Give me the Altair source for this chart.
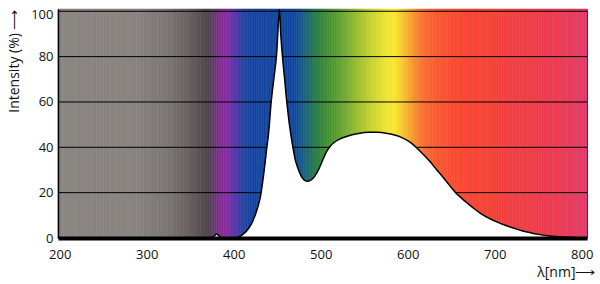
import altair as alt
import pandas as pd
import numpy as np

# Spectrum background colour stops (wavelength nm -> colour)
stop_lam = [198, 290, 300, 325, 345, 360, 368, 376, 385, 392, 402, 410, 420, 470,
            478, 487, 497, 505, 515, 528, 545, 560, 575, 585, 592, 600, 608, 620,
            637, 670, 700, 717, 745, 775, 806]
stop_col = ["#898480", "#87827f", "#827d7b", "#7a7474", "#6a6363", "#5a5252", "#4d4646",
            "#5e3e66", "#7f2d92", "#8a2ca2", "#5536a8", "#2c43a2", "#1645a0", "#1246a0",
            "#175a88", "#1e6e6a", "#2f8040", "#3c8c38", "#52982f", "#70a835", "#a3c230",
            "#cad530", "#eee232", "#f8e630", "#f8d030", "#f8b030", "#f89030", "#fa6a30",
            "#fb5530", "#f84532", "#f44238", "#f04040", "#ee3c48", "#ea3a55", "#e03a68"]

# LED emission spectrum (nm, relative intensity %)
spec_lam = [370, 375, 378, 380, 382, 384, 386, 400, 405, 410, 415, 420, 425, 430, 435,
            438, 440, 443, 446, 449, 450.6, 452.4, 454, 456, 458.5, 461, 464, 468, 471,
            474, 478, 482, 485, 489, 493, 497, 501, 504, 507, 511, 515, 520, 526, 535,
            545, 555, 565, 575, 585, 592, 603, 611, 618, 626, 633, 641, 648, 655, 662,
            669, 676, 684, 693, 703, 712, 722, 731, 741, 750, 760, 775, 790, 800, 806]
spec_int = [0, 0.3, 1.0, 1.8, 1.4, 0.4, 0, 0, 0.3, 1.5, 3.2, 6, 10.5, 17, 30,
            40, 46, 60, 70, 80, 90, 101, 90, 80, 70, 60, 50, 40, 34,
            30.5, 27, 25.3, 25, 25.6, 27.2, 29.8, 33.2, 36, 38.3, 40.5, 42, 43.3, 44.3, 45.4,
            46.2, 46.6, 46.6, 46.2, 45.4, 44.5, 42.2, 39.5, 36.8, 33.5, 30.2, 26.6, 23.2, 20, 17.5,
            15.2, 13, 10.8, 8.8, 7, 5.6, 4.3, 3.2, 2.3, 1.6, 1.0, 0.5, 0.2, 0.05, 0]

grid_vals = [20, 40, 60, 80, 100]
x_ticks = [200, 300, 400, 500, 600, 700, 800]
y_ticks = [0, 20, 40, 60, 80, 100]

edges = np.arange(198, 808, 2)
bg = pd.DataFrame({"lam": edges[:-1], "lam2": edges[1:]})
bg["mid"] = (bg["lam"] + bg["lam2"]) / 2

spec = pd.DataFrame({"lam": spec_lam, "inten": spec_int})
grid = pd.DataFrame({"g": grid_vals})

FONT = "Open Sans"
xscale = alt.Scale(domain=[198, 806], nice=False, zero=False)
yscale = alt.Scale(domain=[0, 101], nice=False, zero=False)
cscale = alt.Scale(domain=stop_lam, range=stop_col, interpolate="rgb")

xaxis = alt.Axis(values=x_ticks, title="λ[nm]⟶", ticks=False, grid=False,
                 domainColor="black", domainWidth=4, labelPadding=10,
                 labelFlush=False, labelOverlap=False, labelFont=FONT,
                 labelFontSize=13, labelColor="#111", titleFont=FONT,
                 titleFontSize=14, titleFontWeight="normal", titleColor="#111",
                 titleX=537, titleY=34, titleAlign="right", titleBaseline="middle",
                 zindex=2)
yaxis = alt.Axis(values=y_ticks, title="Intensity (%) ⟶", ticks=False, grid=False,
                 domainColor="black", domainWidth=1.5, labelPadding=5,
                 labelOffset={"condition": {"test": "datum.value == 100", "value": 3}, "value": 0},
                 labelFlush=False, labelOverlap=False, labelFont=FONT,
                 labelFontSize=13, labelColor="#111", titleFont=FONT,
                 titleFontSize=14, titleFontWeight="normal", titleColor="#111",
                 titleX=-44, titleY=0, titleAngle=270, titleAlign="right",
                 titleBaseline="middle", zindex=2)

background = alt.Chart(bg).mark_rect(strokeWidth=0.6).encode(
    x=alt.X("lam:Q", scale=xscale, axis=xaxis),
    x2="lam2:Q",
    y=alt.YDatum(0, scale=yscale, axis=yaxis),
    y2=alt.Y2Datum(101),
    fill=alt.Fill("mid:Q", scale=cscale, legend=None),
    stroke=alt.Stroke("mid:Q", scale=cscale, legend=None),
)

gridlines = alt.Chart(grid).mark_rule(color="black", strokeWidth=1).encode(
    y=alt.Y("g:Q", scale=yscale, axis=yaxis)
)

area = alt.Chart(spec).mark_area(fill="white", stroke="black", strokeWidth=1.5,
                                 interpolate="catmull-rom", clip=True).encode(
    x=alt.X("lam:Q", scale=xscale, axis=xaxis),
    y=alt.Y("inten:Q", scale=yscale, axis=yaxis),
)

chart = alt.layer(background, gridlines, area).properties(
    width=529, height=229,
    autosize=alt.AutoSizeParams(type="none"),
    padding={"left": 58, "top": 9, "right": 13, "bottom": 46},
    background="white",
).configure_view(stroke="#222", strokeWidth=1)

chart.save("out.html", embed_options={"renderer": "svg", "actions": False})
